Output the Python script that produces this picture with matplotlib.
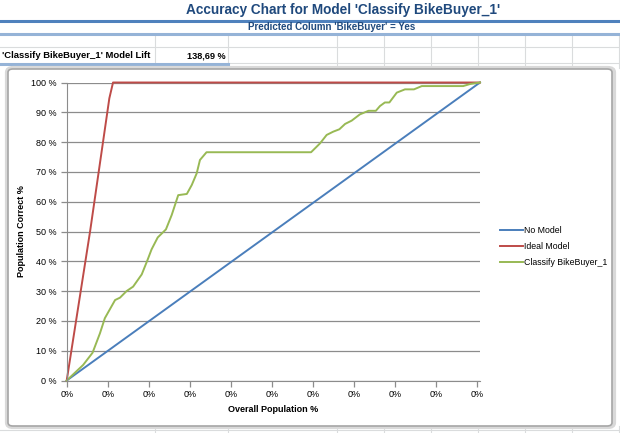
import matplotlib.pyplot as plt
from matplotlib.patches import FancyBboxPatch
from matplotlib.lines import Line2D

plt.rcParams['font.family'] = ['Liberation Sans', 'DejaVu Sans']

# data (percent of overall population -> percent correct)
no_model_x = [0, 100.8]
no_model_y = [0, 100]

ideal_x = [0, 5.7, 10.4, 11.3, 100.8]
ideal_y = [0, 50, 94.7, 100, 100]

classify_x = [0, 4.0, 6.3, 8.1, 9.3, 11.8, 13.0, 14.6, 16.2, 18.3, 19.7, 20.7, 22.2,
              24.2, 25.6, 27.2, 29.3, 30.5, 31.7, 32.5, 34.1, 59.6, 61.8, 63.4, 65.0,
              66.5, 67.9, 69.5, 71.5, 73.6, 75.4, 76.4, 77.6, 78.7, 80.5, 82.5, 84.7,
              86.6, 96.7, 98.4, 100.8]
classify_y = [0, 5.2, 9.3, 15.8, 20.9, 27.0, 27.8, 30.0, 31.5, 35.6, 40.4, 44.0, 48.0,
              50.7, 55.5, 62.2, 62.6, 65.6, 69.5, 74.0, 76.6, 76.6, 79.6, 82.4, 83.5,
              84.3, 86.1, 87.2, 89.3, 90.5, 90.5, 92.1, 93.3, 93.3, 96.6, 97.7, 97.7,
              98.8, 98.8, 99.5, 100]

x_ticks = [0, 10, 20, 30, 40, 50, 60, 70, 80, 90, 100]
x_tick_labels = ['0%'] * 11
y_ticks = [0, 10, 20, 30, 40, 50, 60, 70, 80, 90, 100]
y_tick_labels = [f'{v} %' for v in y_ticks]

title = "Accuracy Chart for Model 'Classify BikeBuyer_1'"
subtitle = "Predicted Column 'BikeBuyer' = Yes"
lift_label = "'Classify BikeBuyer_1' Model Lift"
lift_value = "138,69 %"

W, H = 620, 433
fig = plt.figure(figsize=(W / 100, H / 100), dpi=100)
fig.patch.set_facecolor('white')


def fx(px):
    return px / W


def fy(py):
    return 1 - py / H


# spreadsheet cell grid
grid_col = '#dadcdd'
col_edges = [155, 228, 337, 384, 431, 478, 525, 572, 619]
for px in col_edges:
    fig.add_artist(Line2D([fx(px), fx(px)], [fy(34), fy(68)], color=grid_col, lw=0.8, zorder=-3))
    fig.add_artist(Line2D([fx(px), fx(px)], [fy(426), 0], color=grid_col, lw=0.8, zorder=-3))
fig.add_artist(Line2D([0, 1], [fy(47), fy(47)], color=grid_col, lw=0.8, zorder=-3))
fig.add_artist(Line2D([fx(228), 1], [fy(63), fy(63)], color=grid_col, lw=0.8, zorder=-3))
fig.add_artist(Line2D([0, 1], [fy(430), fy(430)], color=grid_col, lw=0.8, zorder=-3))

# header lines
fig.add_artist(Line2D([0, 1], [fy(21), fy(21)], color='#4f81bd', lw=2.2, zorder=-2))
fig.add_artist(Line2D([0, 1], [fy(34), fy(34)], color='#95b3d7', lw=2.2, zorder=-2))
fig.add_artist(Line2D([0, fx(228)], [fy(63.5), fy(63.5)], color='#95b3d7', lw=2.2, zorder=-2))

fig.text(fx(343), fy(10), title, ha='center', va='center', fontsize=9.8,
         fontweight='bold', color='#1f497d')
fig.text(fx(332), fy(27.5), subtitle, ha='center', va='center', fontsize=7,
         fontweight='bold', color='#1f497d')
fig.text(fx(2), fy(56), lift_label, ha='left', va='center', fontsize=6.8,
         fontweight='bold', color='black')
fig.text(fx(226), fy(56), lift_value, ha='right', va='center', fontsize=6.6,
         fontweight='bold', color='black')

# chart frame (outer shadow + border)
shadow = FancyBboxPatch((fx(7), fy(427)), fx(614) - fx(7), fy(68) - fy(427),
                        boxstyle='round,pad=0,rounding_size=0.01',
                        transform=fig.transFigure, facecolor='none',
                        edgecolor='#d9d9d9', lw=3, zorder=-1.5)
fig.add_artist(shadow)
frame = FancyBboxPatch((fx(8), fy(426)), fx(612) - fx(8), fy(69) - fy(426),
                       boxstyle='round,pad=0,rounding_size=0.008',
                       transform=fig.transFigure, facecolor='white',
                       edgecolor='#a6a6a6', lw=1.2, zorder=-1)
fig.add_artist(frame)

ax = fig.add_axes([fx(66.7), fy(380.5), fx(480) - fx(66.7), fy(82.5) - fy(380.5)])
ax.patch.set_alpha(0)

ax.plot(no_model_x, no_model_y, color='#4a7ebb', lw=1.4, label='No Model', clip_on=False)
ax.plot(ideal_x, ideal_y, color='#be4b48', lw=1.4, label='Ideal Model', clip_on=False)
ax.plot(classify_x, classify_y, color='#98b954', lw=1.4, label='Classify BikeBuyer_1',
        clip_on=False)

ax.set_xlim(0, 100.8)
ax.set_ylim(0, 100)
ax.set_xticks(x_ticks)
ax.set_xticklabels(x_tick_labels, fontsize=6.5)
ax.set_yticks(y_ticks)
ax.set_yticklabels(y_tick_labels, fontsize=6.5)
ax.grid(axis='y', color='#8c8c8c', lw=0.9)
ax.set_axisbelow(True)
for side in ['top', 'right']:
    ax.spines[side].set_visible(False)
for side in ['left', 'bottom']:
    ax.spines[side].set_color('#8c8c8c')
ax.tick_params(axis='both', colors='#8c8c8c', labelcolor='black', length=4, width=0.9)
ax.tick_params(axis='x', pad=3)

ax.set_xlabel('Overall Population %', fontsize=6.5, fontweight='bold', labelpad=4)
ax.set_ylabel('Population Correct %', fontsize=6.5, fontweight='bold', labelpad=3)

ax.legend(loc='center left', bbox_to_anchor=(1.03, 0.448), frameon=False, fontsize=6.3,
          handlelength=2.6, handletextpad=0.1, labelspacing=0.8)

fig.savefig('out.png', dpi=100)
